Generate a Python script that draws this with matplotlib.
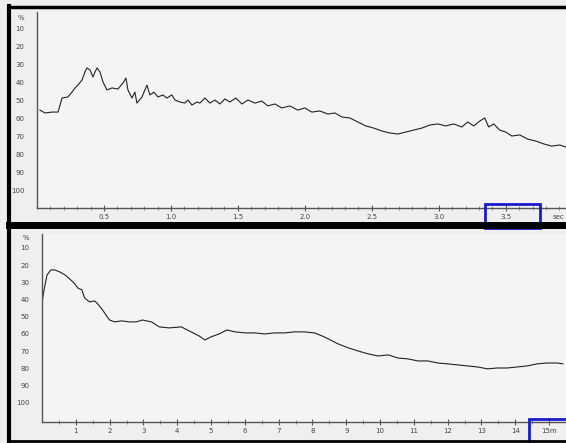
import matplotlib
matplotlib.use("Agg")
import matplotlib.pyplot as plt
from matplotlib.lines import Line2D
from matplotlib.patches import Rectangle

# obere Spur (Zeit in s, Wert in %)
top_t = [0.022, 0.060, 0.112, 0.157, 0.187, 0.231, 0.261, 0.284, 0.306, 0.336, 0.358, 0.373,
         0.396, 0.418, 0.433, 0.448, 0.470, 0.493, 0.522, 0.560, 0.604, 0.642, 0.664, 0.679,
         0.709, 0.731, 0.746, 0.784, 0.821, 0.843, 0.873, 0.903, 0.940, 0.970, 1.007, 1.030,
         1.067, 1.104, 1.127, 1.157, 1.194, 1.216, 1.254, 1.291, 1.328, 1.366, 1.403, 1.440,
         1.485, 1.530, 1.575, 1.627, 1.679, 1.724, 1.776, 1.828, 1.888, 1.948, 2.000, 2.052,
         2.112, 2.172, 2.224, 2.276, 2.336, 2.396, 2.455, 2.515, 2.575, 2.634, 2.694, 2.754,
         2.813, 2.873, 2.933, 2.993, 3.052, 3.112, 3.172, 3.216, 3.261, 3.306, 3.343, 3.373,
         3.410, 3.455, 3.500, 3.545, 3.604, 3.664, 3.724, 3.784, 3.843, 3.903, 3.948]
top_v = [55.6, 57.2, 56.7, 56.7, 48.9, 48.3, 45.6, 43.3, 41.7, 38.9, 34.4, 32.2,
         33.3, 37.2, 34.4, 32.2, 34.4, 40.0, 44.4, 43.3, 43.9, 40.6, 37.8, 44.4,
         48.9, 45.6, 51.7, 48.3, 41.7, 47.2, 45.6, 48.3, 47.2, 48.9, 47.2, 50.0,
         51.1, 51.7, 50.0, 52.8, 51.1, 51.7, 48.9, 51.7, 50.0, 52.2, 49.4, 51.1,
         48.9, 52.2, 50.0, 51.7, 50.6, 53.3, 52.2, 54.4, 53.3, 55.6, 54.4, 56.7,
         56.1, 57.8, 57.2, 59.4, 60.0, 62.2, 64.4, 65.6, 67.2, 68.3, 68.9, 67.8,
         66.7, 65.6, 63.9, 63.3, 64.4, 63.3, 65.0, 62.2, 64.4, 61.7, 60.0, 65.0,
         63.3, 66.7, 67.8, 70.0, 69.4, 71.7, 72.8, 74.4, 75.6, 75.0, 76.1]

# untere Spur (Zeit in min)
bot_t = [0.00, 0.06, 0.15, 0.26, 0.38, 0.53, 0.68, 0.82, 0.97, 1.06, 1.18, 1.26, 1.41, 1.56,
         1.65, 1.79, 1.91, 2.00, 2.15, 2.35, 2.59, 2.79, 2.97, 3.24, 3.47, 3.76, 4.12, 4.41,
         4.65, 4.82, 5.00, 5.24, 5.47, 5.71, 6.00, 6.29, 6.59, 6.88, 7.18, 7.47, 7.76, 8.06,
         8.29, 8.53, 8.76, 9.06, 9.35, 9.65, 9.94, 10.24, 10.53, 10.82, 11.12, 11.41, 11.71,
         12.00, 12.29, 12.59, 12.88, 13.18, 13.47, 13.76, 14.06, 14.35, 14.65, 14.94, 15.24, 15.41]
bot_v = [42.0, 34.4, 25.7, 22.8, 22.8, 24.0, 25.7, 28.0, 30.9, 33.3, 34.4, 39.1, 41.4, 40.8,
         42.6, 46.0, 49.5, 51.9, 53.0, 52.4, 53.0, 53.0, 51.9, 53.0, 55.9, 56.5, 55.9, 58.8,
         61.2, 63.5, 61.7, 60.0, 57.7, 58.8, 59.4, 59.4, 60.0, 59.4, 59.4, 58.8, 58.8, 59.4,
         61.2, 63.5, 65.8, 68.1, 69.9, 71.6, 72.8, 72.2, 74.0, 74.5, 75.7, 75.7, 76.9,
         77.4, 78.0, 78.6, 79.2, 80.3, 79.8, 79.8, 79.2, 78.6, 77.4, 76.9, 76.9, 77.4]

y_ticks = [4, 10, 20, 30, 40, 50, 60, 70, 80, 90, 100]
y_labels = ["%", "10", "20", "30", "40", "50", "60", "70", "80", "90", "100"]
top_xticks = [0.5, 1.0, 1.5, 2.0, 2.5, 3.0, 3.5]
top_xlabels = ["0.5", "1.0", "1.5", "2.0", "2.5", "3.0", "3.5"]
bot_xticks = list(range(1, 16))
bot_xlabels = [str(i) for i in range(1, 15)] + ["15m"]

W, H = 566, 443
fig = plt.figure(figsize=(W / 100, H / 100), dpi=100, facecolor="#efefef")

def fx(px):
    return px / W

def fy(py):
    return 1 - py / H

ax1 = fig.add_axes([fx(37), fy(208), 1 - fx(37), fy(12) - fy(208)])
ax2 = fig.add_axes([fx(42), fy(422), 1 - fx(42), fy(234) - fy(422)])

for ax in (ax1, ax2):
    ax.set_facecolor("#f4f4f4")
    for s in ("top", "right"):
        ax.spines[s].set_visible(False)
    for s in ("left", "bottom"):
        ax.spines[s].set_color("#555555")
        ax.spines[s].set_linewidth(1.0)
    ax.set_yticks(y_ticks)
    ax.set_yticklabels(y_labels)
    ax.tick_params(axis="y", length=0, pad=9, labelsize=5, labelcolor="#444444")
    ax.tick_params(axis="x", which="major", direction="inout", length=5, width=0.8,
                   color="#555555", pad=2, labelsize=5, labelcolor="#444444")
    ax.tick_params(axis="x", which="minor", direction="inout", length=3, width=0.6,
                   color="#777777")

ax1.plot(top_t, top_v, color="#222222", lw=0.8)
ax1.set_xlim(0, 3.95)
ax1.set_ylim(110, 1.1)
ax1.set_xticks(top_xticks)
ax1.set_xticklabels(top_xlabels)
ax1.set_xticks([i * 0.1 for i in range(1, 40)], minor=True)

ax2.plot(bot_t, bot_v, color="#222222", lw=0.8)
ax2.set_xlim(0, 15.4)
ax2.set_ylim(111.2, 1.9)
ax2.set_xticks(bot_xticks)
ax2.set_xticklabels(bot_xlabels)
ax2.set_xticks([i + 0.5 for i in range(0, 16)], minor=True)

fig.text(fx(553), fy(217), "sec", fontsize=5, color="#444444", va="center")

# schwarzer Rahmen
kw = dict(color="black", transform=fig.transFigure)
fig.add_artist(Line2D([fx(9), fx(9)], [fy(443), fy(6)], lw=3, **kw))
fig.add_artist(Line2D([fx(9), 1], [fy(7), fy(7)], lw=2.5, **kw))
fig.add_artist(Line2D([fx(9), 1], [fy(225), fy(225)], lw=5, **kw))
fig.add_artist(Line2D([fx(9), 1], [fy(441), fy(441)], lw=2, **kw))

# blaue Markierungen
fig.add_artist(Rectangle((fx(485), fy(228)), fx(540) - fx(485), fy(204) - fy(228),
                         fill=False, edgecolor="#1a1acc", lw=2, transform=fig.transFigure))
fig.add_artist(Rectangle((fx(529), fy(445)), fx(575) - fx(529), fy(419) - fy(445),
                         fill=False, edgecolor="#1a1acc", lw=2, transform=fig.transFigure))

plt.savefig("out.png", dpi=100, facecolor=fig.get_facecolor())
